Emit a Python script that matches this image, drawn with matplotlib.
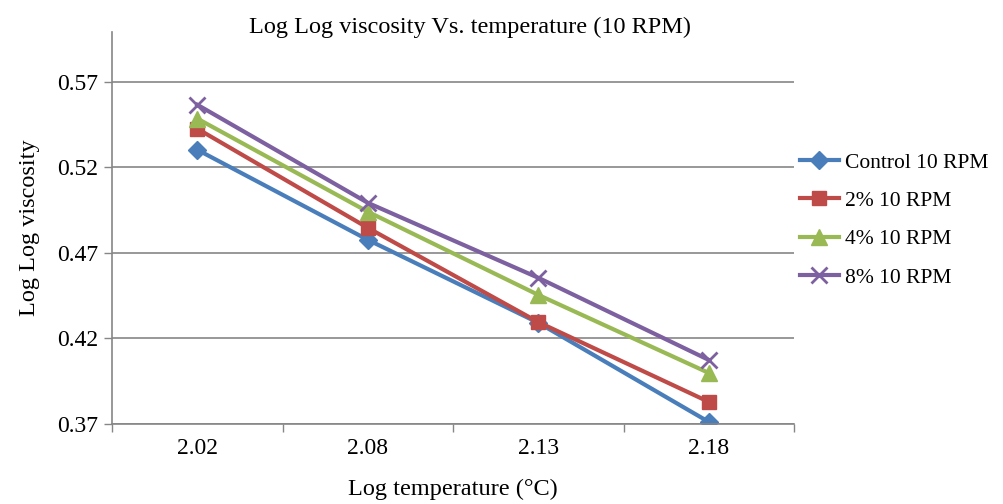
import matplotlib
matplotlib.use('Agg')
import matplotlib.pyplot as plt
import numpy as np

# Data
categories = ['2.02', '2.08', '2.13', '2.18']
control = [0.5302, 0.4776, 0.4291, 0.3712]
pct2 = [0.5425, 0.4846, 0.4295, 0.3829]
pct4 = [0.5484, 0.4940, 0.4454, 0.3998]
pct8 = [0.5565, 0.4992, 0.4554, 0.4074]
series_names = ['Control 10 RPM', '2% 10 RPM', '4% 10 RPM', '8% 10 RPM']
y_ticks = [0.37, 0.42, 0.47, 0.52, 0.57]

plt.rcParams['font.family'] = ['Liberation Serif', 'DejaVu Serif']

fig = plt.figure(figsize=(10.04, 5.04), dpi=100)
ax = fig.add_axes([0.1116, 0.1587, 0.6794, 0.7778])

x = np.arange(len(categories))
styles = [
    ('#4A7EBB', 'D', 9),
    ('#BE4B48', 's', 10),
    ('#98B954', '^', 11),
    ('#7D60A0', 'x', 11),
]
for vals, name, (col, mk, ms) in zip([control, pct2, pct4, pct8], series_names, styles):
    ax.plot(x, vals, color=col, lw=3, marker=mk, markersize=ms,
            markeredgewidth=2 if mk == 'x' else 1, markeredgecolor=col,
            markerfacecolor=col, label=name)

ax.set_xlim(-0.5, len(categories) - 0.5)
ax.set_ylim(0.37, 0.599)
ax.set_yticks(y_ticks)
ax.set_yticklabels(['%.2f' % v for v in y_ticks])
ax.set_xticks(x)
ax.set_xticklabels(categories)
ax.set_xticks(np.arange(len(categories) + 1) - 0.5, minor=True)
ax.tick_params(axis='x', which='major', length=0, pad=10, labelsize=17)
ax.tick_params(axis='x', which='minor', length=6, width=1, color='#868686', direction='out')
ax.tick_params(axis='y', length=6, width=1, color='#868686', direction='out', pad=4, labelsize=17)

ax.grid(axis='y', color='#868686', lw=1.2)
ax.set_axisbelow(True)
for s in ['top', 'right']:
    ax.spines[s].set_visible(False)
for s in ['left', 'bottom']:
    ax.spines[s].set_color('#868686')
    ax.spines[s].set_linewidth(1.2)

fig.text(0.468, 0.946, 'Log Log viscosity Vs. temperature (10 RPM)', fontsize=17.5,
         ha='center', va='center')
ax.set_xlabel('Log temperature (°C)', fontsize=17.5, labelpad=14)
ax.set_ylabel('Log Log viscosity', fontsize=17.5, labelpad=12)

ax.legend(loc='center left', bbox_to_anchor=(0.996, 0.52), frameon=False,
          fontsize=15.5, handlelength=1.8, handletextpad=0.3, labelspacing=0.85,
          borderaxespad=0)

fig.savefig('out.png', dpi=100)
